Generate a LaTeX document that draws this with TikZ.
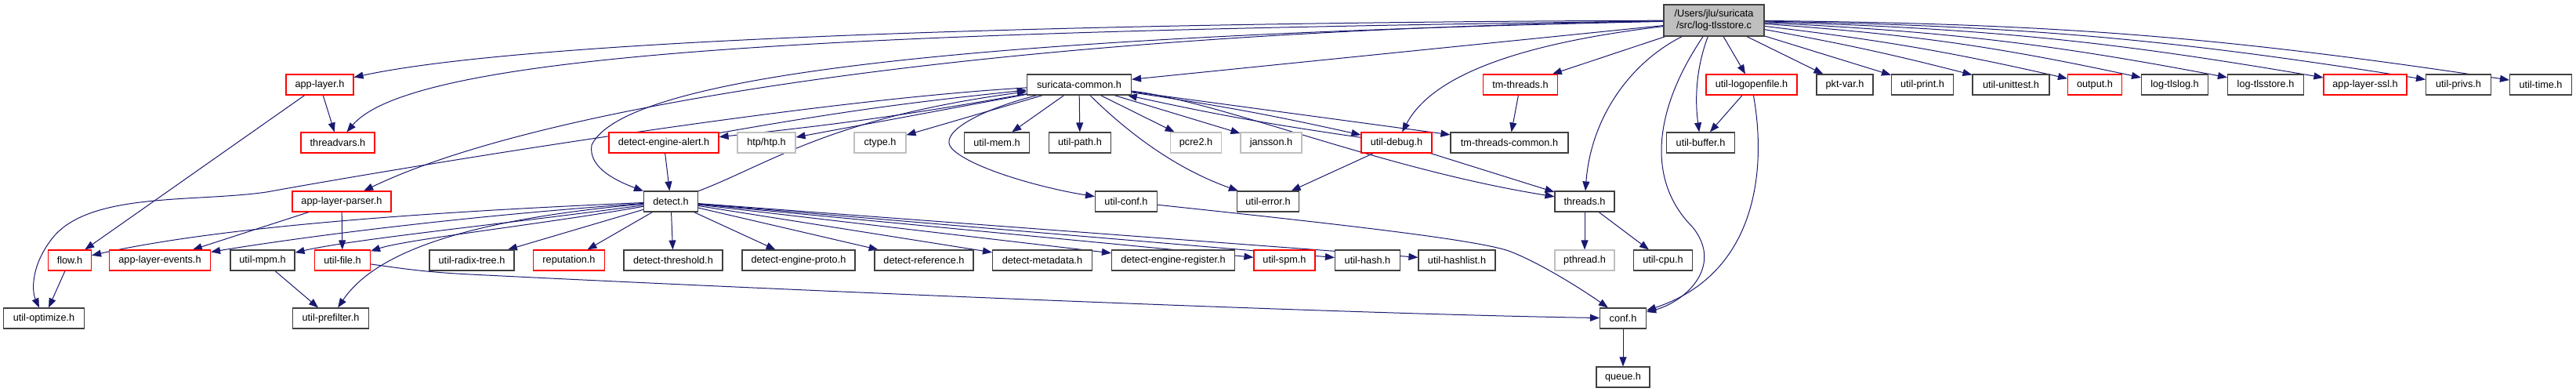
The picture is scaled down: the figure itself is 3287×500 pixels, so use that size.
\documentclass[tikz,border=0pt]{standalone}
\usepackage{fontspec}
\setmainfont{Liberation Sans}
\usetikzlibrary{arrows.meta}
\definecolor{edgeblue}{RGB}{25,25,112}
\definecolor{boxred}{RGB}{255,0,0}
\definecolor{boxgray}{RGB}{191,191,191}
\definecolor{boxblack}{RGB}{64,64,64}
\definecolor{rootfill}{RGB}{191,191,191}
\pgfdeclarelayer{bg}
\pgfsetlayers{bg,main}
\begin{document}
\begin{tikzpicture}[x=1pt,y=-1pt,
  box/.style={draw, rectangle, line width=1.1pt, minimum height=26pt, inner sep=0pt, fill=white, font=\fontsize{12.7}{15}\selectfont},
  nb/.style={box, draw=boxblack},
  nr/.style={box, draw=boxred},
  ng/.style={box, draw=boxgray},
  conn/.style={draw=edgeblue, line width=1.0pt, -{Triangle[length=12pt,width=9pt]}}
]
\useasboundingbox (0,0) rectangle (3287,500);

% row 0
\node[box, draw=boxblack, fill=rootfill, minimum width=128pt, minimum height=40pt, align=center] (R) at (2187,26) {/Users/jlu/suricata\\/src/log-tlsstore.c};

% row 1
\node[nr, minimum width=86pt] (applayer) at (408,108) {app-layer.h};
\node[nb, minimum width=133pt] (S) at (1377,108) {suricata-common.h};
\node[nr, minimum width=95pt] (tmthreads) at (1940,108) {tm-threads.h};
\node[nr, minimum width=116pt] (logopen) at (2235,108) {util-logopenfile.h};
\node[nb, minimum width=72pt] (pktvar) at (2354,108) {pkt-var.h};
\node[nb, minimum width=79pt] (utilprint) at (2453,108) {util-print.h};
\node[nb, minimum width=98pt] (unittest) at (2566,108) {util-unittest.h};
\node[nr, minimum width=69pt] (output) at (2673,108) {output.h};
\node[nb, minimum width=85pt] (tlslog) at (2775,108) {log-tlslog.h};
\node[nb, minimum width=97pt] (tlsstore) at (2891,108) {log-tlsstore.h};
\node[nr, minimum width=106pt] (ssl) at (3018,108) {app-layer-ssl.h};
\node[nb, minimum width=83pt] (privs) at (3137,108) {util-privs.h};
\node[nb, minimum width=79pt] (utiltime) at (3242,108) {util-time.h};

% row 2
\node[nr, minimum width=94pt] (threadvars) at (431,182) {threadvars.h};
\node[nr, minimum width=140pt] (dea) at (847,182) {detect-engine-alert.h};
\node[ng, minimum width=74pt] (htp) at (978,182) {htp/htp.h};
\node[ng, minimum width=66pt] (ctype) at (1123,182) {ctype.h};
\node[nb, minimum width=83pt] (utilmem) at (1272,182) {util-mem.h};
\node[nb, minimum width=79pt] (utilpath) at (1378,182) {util-path.h};
\node[ng, minimum width=65pt] (pcre2) at (1526,182) {pcre2.h};
\node[ng, minimum width=78pt] (jansson) at (1622,182) {jansson.h};
\node[nr, minimum width=90pt] (utildebug) at (1782,182) {util-debug.h};
\node[nb, minimum width=150pt] (tmtc) at (1926,182) {tm-threads-common.h};
\node[nb, minimum width=87pt] (utilbuffer) at (2170,182) {util-buffer.h};

% row 3
\node[nr, minimum width=126pt] (alparser) at (436,257) {app-layer-parser.h};
\node[nb, minimum width=69pt] (D) at (856,257) {detect.h};
\node[nb, minimum width=79pt] (utilconf) at (1437,257) {util-conf.h};
\node[nb, minimum width=79pt] (utilerror) at (1618,257) {util-error.h};
\node[nb, minimum width=76pt] (threads) at (2022,257) {threads.h};

% row 4
\node[nr, minimum width=55pt] (flow) at (89,332) {flow.h};
\node[nr, minimum width=129pt] (events) at (204,332) {app-layer-events.h};
\node[nb, minimum width=82pt] (utilmpm) at (335,332) {util-mpm.h};
\node[nr, minimum width=71pt] (utilfile) at (437,332) {util-file.h};
\node[nb, minimum width=108pt] (radix) at (602,332) {util-radix-tree.h};
\node[nr, minimum width=91pt] (reputation) at (726,332) {reputation.h};
\node[nb, minimum width=126pt] (threshold) at (859,332) {detect-threshold.h};
\node[nb, minimum width=144pt] (proto) at (1019,332) {detect-engine-proto.h};
\node[nb, minimum width=126pt] (reference) at (1179,332) {detect-reference.h};
\node[nb, minimum width=127pt] (metadata) at (1330,332) {detect-metadata.h};
\node[nb, minimum width=157pt] (register) at (1497,332) {detect-engine-register.h};
\node[nr, minimum width=78pt] (spm) at (1639,332) {util-spm.h};
\node[nb, minimum width=83pt] (hash) at (1745,332) {util-hash.h};
\node[nb, minimum width=98pt] (hashlist) at (1859,332) {util-hashlist.h};
\node[ng, minimum width=76pt] (pthread) at (2022,332) {pthread.h};
\node[nb, minimum width=75pt] (utilcpu) at (2122,332) {util-cpu.h};

% row 5
\node[nb, minimum width=103pt] (utiloptimize) at (56,406) {util-optimize.h};
\node[nb, minimum width=97pt] (prefilter) at (422,406) {util-prefilter.h};
\node[nb, minimum width=59pt] (conf) at (2071,406) {conf.h};

% row 6
\node[nb, minimum width=68pt] (queue) at (2071,481) {queue.h};

\begin{pgfonlayer}{bg}
% from root
\draw[conn] (R) .. controls (1500,28) and (700,45) .. (applayer);
\draw[conn] (R) .. controls (1100,40) and (530,65) .. (threadvars);
\draw[conn] (R) .. controls (1300,45) and (800,90) .. (755,185) .. controls (750,215) and (790,232) .. (D);
\draw[conn] (R) .. controls (1300,40) and (700,130) .. (alparser);
\draw[conn] (R) -- (S);
\draw[conn] (R) .. controls (1900,60) and (1820,110) .. (utildebug);
\draw[conn] (R) -- (tmthreads);
\draw[conn] (R) .. controls (2080,80) and (2030,150) .. (threads);
\draw[conn] (R) .. controls (2110,140) and (2100,230) .. (2160,290) .. controls (2200,340) and (2150,385) .. (conf);
\draw[conn] (R) .. controls (2163,90) and (2163,130) .. (utilbuffer);
\draw[conn] (R) -- (logopen);
\draw[conn] (R) -- (pktvar);
\draw[conn] (R) -- (utilprint);
\draw[conn] (R) to[bend left=2] (unittest);
\draw[conn] (R) to[bend left=3] (output);
\draw[conn] (R) to[bend left=4] (tlslog);
\draw[conn] (R) to[bend left=4] (tlsstore);
\draw[conn] (R) to[bend left=4] (ssl);
\draw[conn] (R) to[bend left=4] (privs);
\draw[conn] (R) to[bend left=4] (utiltime);

% from suricata-common
\draw[conn] (S) -- (ctype);
\draw[conn] (S) -- (utilmem);
\draw[conn] (S) -- (utilpath);
\draw[conn] (S) -- (pcre2);
\draw[conn] (S) -- (jansson);
\draw[conn] (S) .. controls (1250,140) and (1195,170) .. (1215,190) .. controls (1240,215) and (1330,240) .. (utilconf);
\draw[conn] (S) .. controls (1440,170) and (1500,215) .. (utilerror);
\draw[conn] (S) to[bend left=2] (utildebug);
\draw[conn] (utildebug) to[bend left=2] (S);
\draw[conn] (S) -- (tmtc);
\draw[conn] (S) .. controls (1560,130) and (1760,215) .. (threads);
\draw[conn] (S) -- (htp);
\draw[conn] (S) to[bend left=2] (dea);
\draw[conn] (dea) to[bend left=2] (S);
\draw[conn] (S) .. controls (1000,130) and (450,225) .. (340,245) .. controls (250,258) and (120,245) .. (70,300) .. controls (40,335) and (40,370) .. (utiloptimize);
\draw[conn] (D) .. controls (980,210) and (1060,150) .. (S);
\draw[conn] (dea) -- (D);

% from detect.h
\draw[conn] (D) .. controls (600,268) and (300,285) .. (flow);
\draw[conn] (D) .. controls (600,275) and (400,300) .. (events);
\draw[conn] (D) .. controls (650,285) and (450,305) .. (utilmpm);
\draw[conn] (D) .. controls (700,285) and (520,305) .. (utilfile);
\draw[conn] (D) .. controls (600,280) and (480,320) .. (prefilter);
\draw[conn] (D) -- (radix);
\draw[conn] (D) -- (reputation);
\draw[conn] (D) -- (threshold);
\draw[conn] (D) -- (proto);
\draw[conn] (D) -- (reference);
\draw[conn] (D) -- (metadata);
\draw[conn] (D) -- (register);
\draw[conn] (D) -- (spm);
\draw[conn] (D) -- (hash);
\draw[conn] (D) -- (hashlist);

% others
\draw[conn] (applayer) -- (threadvars);
\draw[conn] (applayer) -- (flow);
\draw[conn] (alparser) -- (events);
\draw[conn] (alparser) -- (utilfile);
\draw[conn] (flow) -- (utiloptimize);
\draw[conn] (utilmpm) -- (prefilter);
\draw[conn] (utilfile) .. controls (510,342) and (540,347) .. (600,350) .. controls (1000,370) and (1700,400) .. (conf);
\draw[conn] (utilconf) .. controls (1700,285) and (1880,305) .. (1925,320) .. controls (1965,335) and (2020,370) .. (conf);
\draw[conn] (logopen) -- (utilbuffer);
\draw[conn] (logopen) .. controls (2255,220) and (2240,350) .. (conf);
\draw[conn] (utildebug) -- (utilerror);
\draw[conn] (utildebug) -- (threads);
\draw[conn] (tmthreads) -- (tmtc);
\draw[conn] (threads) -- (pthread);
\draw[conn] (threads) -- (utilcpu);
\draw[conn] (conf) -- (queue);
\end{pgfonlayer}
\end{tikzpicture}
\end{document}
